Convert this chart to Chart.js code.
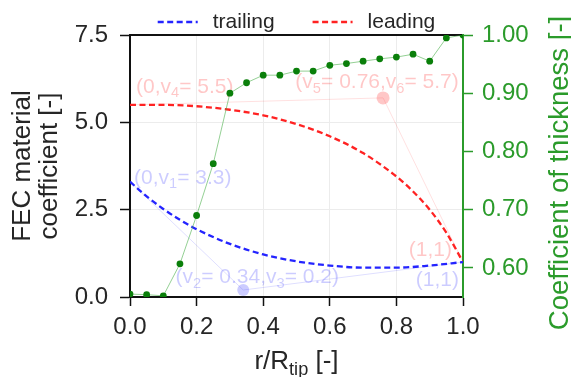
<!DOCTYPE html>
<html>
<head>
<meta charset="utf-8">
<script src="https://cdn.jsdelivr.net/npm/chart.js@4/dist/chart.umd.min.js"></script>
<style>
  html, body { margin: 0; padding: 0; background: #fff; }
  canvas { display: block; }
</style>
</head>
<body>
<canvas id="c" width="571" height="377"></canvas>
<script>
// Thickness coefficient along the blade span
const radialPos = [0, 0.05, 0.10, 0.15, 0.20, 0.25, 0.30, 0.35, 0.40, 0.45, 0.50,
                   0.55, 0.60, 0.65, 0.70, 0.75, 0.80, 0.85, 0.90, 0.95, 1.00];
const thickness = [0.555, 0.554, 0.552, 0.607, 0.690, 0.779, 0.900, 0.918, 0.931, 0.931, 0.938,
                   0.938, 0.948, 0.951, 0.955, 0.959, 0.962, 0.967, 0.955, 0.995, 1.000];

// FEC material coefficient, trailing edge
const trailingR   = [0, 0.05, 0.10, 0.15, 0.20, 0.30, 0.40, 0.50, 0.60, 0.70, 0.80, 0.90, 1.00];
const trailingVal = [3.30, 2.88, 2.52, 2.21, 1.94, 1.52, 1.22, 1.02, 0.90, 0.84, 0.84, 0.90, 1.00];

// FEC material coefficient, leading edge
const leadingR   = [0, 0.10, 0.20, 0.30, 0.40, 0.50, 0.60, 0.70, 0.80, 0.85, 0.90, 0.95, 1.00];
const leadingVal = [5.50, 5.50, 5.46, 5.36, 5.20, 4.95, 4.60, 4.12, 3.45, 3.02, 2.50, 1.84, 1.00];

// Curve control points (start, middle, end)
const trailingCtrlR = [0, 0.34, 1];
const trailingCtrlV = [3.3, 0.2, 1];
const leadingCtrlR  = [0, 0.76, 1];
const leadingCtrlV  = [5.5, 5.7, 1];

// Axis ticks
const xTicks  = [0, 0.2, 0.4, 0.6, 0.8, 1.0];
const yTicks  = [0, 2.5, 5.0, 7.5];
const y2Ticks = [0.6, 0.7, 0.8, 0.9, 1.0];

const FONT = "'Liberation Sans', Arial, sans-serif";
const TEXT = '#262626';
const GREEN = '#2b9b2b';
const BLUE = '#2424ff';
const RED = '#ff2222';
const TICK_SIZE = 24;
const TITLE_SIZE = 26;

const pts = (xs, ys) => xs.map((r, i) => ({ x: r, y: ys[i] }));

// Draws a string made of normal and subscript pieces
function drawRich(ctx, parts, x, y, align, size, color) {
  const sub = size * 0.7;
  const widths = parts.map(p => {
    ctx.font = (p.sub ? sub : size) + 'px ' + FONT;
    return ctx.measureText(p.t).width;
  });
  const total = widths.reduce((a, b) => a + b, 0);
  let cx = align === 'left' ? x : align === 'right' ? x - total : x - total / 2;
  ctx.fillStyle = color;
  ctx.textAlign = 'left';
  ctx.textBaseline = 'alphabetic';
  parts.forEach((p, i) => {
    ctx.font = (p.sub ? sub : size) + 'px ' + FONT;
    ctx.fillText(p.t, cx, y + (p.sub ? size * 0.22 : 0));
    cx += widths[i];
  });
}

const fmt = v => String(v);

const decorations = {
  id: 'decorations',
  beforeDatasetsDraw(chart) {
    const { ctx, scales: { x, y } } = chart;
    const pinkText = 'rgba(255,0,0,0.22)';
    const blueText = 'rgba(0,0,255,0.2)';
    const S = 21;
    const at = (r, v) => [x.getPixelForValue(r), y.getPixelForValue(v)];
    ctx.save();
    let p;
    p = at(leadingCtrlR[0], leadingCtrlV[0]);
    drawRich(ctx, [{ t: '(' + fmt(leadingCtrlR[0]) + ',v' }, { t: '4', sub: true }, { t: '= ' + leadingCtrlV[0].toFixed(1) + ')' }],
      p[0] + 6, p[1] - 12, 'left', S, pinkText);
    p = at(leadingCtrlR[1], leadingCtrlV[1]);
    drawRich(ctx, [{ t: '(v' }, { t: '5', sub: true }, { t: '= ' + leadingCtrlR[1].toFixed(2) + ',v' }, { t: '6', sub: true }, { t: '= ' + leadingCtrlV[1].toFixed(1) + ')' }],
      p[0] - 6, p[1] - 10, 'center', S, pinkText);
    p = at(leadingCtrlR[2], leadingCtrlV[2]);
    drawRich(ctx, [{ t: '(' + fmt(leadingCtrlR[2]) + ',' + fmt(leadingCtrlV[2]) + ')' }],
      p[0] - 11, p[1] - 6, 'right', S, pinkText);
    p = at(trailingCtrlR[0], trailingCtrlV[0]);
    drawRich(ctx, [{ t: '(' + fmt(trailingCtrlR[0]) + ',v' }, { t: '1', sub: true }, { t: '= ' + trailingCtrlV[0].toFixed(1) + ')' }],
      p[0] + 4, p[1] + 2, 'left', S, blueText);
    p = at(trailingCtrlR[1], trailingCtrlV[1]);
    drawRich(ctx, [{ t: '(v' }, { t: '2', sub: true }, { t: '= ' + trailingCtrlR[1].toFixed(2) + ',v' }, { t: '3', sub: true }, { t: '= ' + trailingCtrlV[1].toFixed(1) + ')' }],
      p[0] + 14, p[1] - 7, 'center', S, blueText);
    p = at(trailingCtrlR[2], trailingCtrlV[2]);
    drawRich(ctx, [{ t: '(' + fmt(trailingCtrlR[2]) + ',' + fmt(trailingCtrlV[2]) + ')' }],
      p[0] - 4, p[1] + 24, 'right', S, blueText);
    ctx.restore();
  },
  afterDraw(chart) {
    const { ctx, chartArea: a } = chart;
    ctx.save();
    // legend for the two edge curves
    const items = [chart.data.datasets[1], chart.data.datasets[2]];
    const LS = 21, lineLen = 40, gapText = 15, gapItem = 38;
    ctx.font = LS + 'px ' + FONT;
    const widths = items.map(d => lineLen + gapText + ctx.measureText(d.label).width);
    const total = widths.reduce((s, w) => s + w, 0) + gapItem * (items.length - 1);
    let lx = (a.left + a.right) / 2 - total / 2;
    const ly = 22;
    items.forEach((d, i) => {
      ctx.strokeStyle = d.borderColor;
      ctx.lineWidth = d.borderWidth;
      ctx.setLineDash(d.borderDash);
      ctx.beginPath();
      ctx.moveTo(lx, ly);
      ctx.lineTo(lx + lineLen, ly);
      ctx.stroke();
      ctx.setLineDash([]);
      ctx.fillStyle = TEXT;
      ctx.textAlign = 'left';
      ctx.textBaseline = 'middle';
      ctx.fillText(d.label, lx + lineLen + gapText, ly);
      lx += widths[i] + gapItem;
    });

    // x-axis title with subscript
    const cx = (a.left + a.right) / 2;
    drawRich(ctx, [{ t: 'r/R' }, { t: 'tip', sub: true }, { t: ' [-]' }], cx, 369, 'center', TITLE_SIZE, TEXT);

    // right axis title, reading upwards
    ctx.translate(560, (a.top + a.bottom) / 2 + 7);
    ctx.rotate(-Math.PI / 2);
    ctx.font = '27.5px ' + FONT;
    ctx.fillStyle = GREEN;
    ctx.textAlign = 'center';
    ctx.textBaseline = 'middle';
    ctx.fillText('Coefficient of thickness [-]', 0, 0);
    ctx.restore();
  }
};

new Chart(document.getElementById('c'), {
  type: 'line',
  data: {
    datasets: [
      {
        label: 'thickness',
        data: pts(radialPos, thickness),
        yAxisID: 'y2',
        borderColor: 'rgba(60,170,60,0.55)',
        borderWidth: 1,
        pointRadius: 3.4,
        pointBackgroundColor: '#0a7f0a',
        pointBorderWidth: 0,
        tension: 0
      },
      {
        label: 'trailing',
        data: pts(trailingR, trailingVal),
        yAxisID: 'y',
        borderColor: BLUE,
        borderWidth: 2.3,
        borderDash: [6, 3.5],
        pointRadius: 0,
        cubicInterpolationMode: 'monotone'
      },
      {
        label: 'leading',
        data: pts(leadingR, leadingVal),
        yAxisID: 'y',
        borderColor: RED,
        borderWidth: 2.3,
        borderDash: [6, 3.5],
        pointRadius: 0,
        cubicInterpolationMode: 'monotone'
      },
      {
        label: 'trailing control',
        data: pts(trailingCtrlR, trailingCtrlV),
        yAxisID: 'y',
        borderColor: 'rgba(0,0,255,0.13)',
        borderWidth: 1,
        pointRadius: [0, 6, 0],
        pointBackgroundColor: 'rgba(40,40,255,0.24)',
        pointBorderWidth: 0,
        tension: 0
      },
      {
        label: 'leading control',
        data: pts(leadingCtrlR, leadingCtrlV),
        yAxisID: 'y',
        borderColor: 'rgba(255,0,0,0.12)',
        borderWidth: 1,
        pointRadius: [0, 6.5, 0],
        pointBackgroundColor: 'rgba(255,40,40,0.26)',
        pointBorderWidth: 0,
        tension: 0
      }
    ]
  },
  options: {
    responsive: false,
    animation: false,
    devicePixelRatio: 1,
    layout: { padding: { top: 35, left: 0, right: 0, bottom: 0 } },
    plugins: { legend: { display: false }, tooltip: { enabled: false } },
    scales: {
      x: {
        type: 'linear', position: 'bottom', min: 0, max: 1,
        afterBuildTicks: s => { s.ticks = xTicks.map(v => ({ value: v })); },
        afterFit: s => { s.height = 80; },
        ticks: { callback: v => v.toFixed(1), font: { size: TICK_SIZE, family: FONT }, color: TEXT, padding: 7, maxRotation: 0, autoSkip: false },
        grid: { color: '#ececec', lineWidth: 1, tickColor: '#111', tickLength: 9, tickWidth: 1.5 },
        border: { color: '#111', width: 2 }
      },
      xTop: {
        type: 'linear', position: 'top', min: 0, max: 1,
        afterFit: s => { s.height = 0; },
        ticks: { display: false },
        grid: { drawOnChartArea: false, drawTicks: false },
        border: { color: '#111', width: 2 }
      },
      y: {
        type: 'linear', position: 'left', min: 0, max: 7.5,
        afterBuildTicks: s => { s.ticks = yTicks.map(v => ({ value: v })); },
        afterFit: s => { s.width = 130; },
        ticks: { callback: v => v.toFixed(1), font: { size: TICK_SIZE, family: FONT }, color: TEXT, padding: 12 },
        grid: { color: '#ececec', lineWidth: 1, tickColor: '#111', tickLength: 10, tickWidth: 1.5 },
        border: { color: '#111', width: 2 },
        title: {
          display: true, text: ['FEC material', 'coefficient [-]'], color: TEXT,
          font: { size: TITLE_SIZE, family: FONT, lineHeight: 1.05 }, padding: { top: 9, bottom: 0 }
        }
      },
      y2: {
        type: 'linear', position: 'right', min: 0.55, max: 1.0,
        afterBuildTicks: s => { s.ticks = y2Ticks.map(v => ({ value: v })); },
        afterFit: s => { s.width = 108; },
        ticks: { callback: v => v.toFixed(2), font: { size: TICK_SIZE, family: FONT }, color: GREEN, padding: 9 },
        grid: { drawOnChartArea: false, tickColor: GREEN, tickLength: 10, tickWidth: 1.5 },
        border: { color: GREEN, width: 2 }
      }
    }
  },
  plugins: [decorations]
});
</script>
</body>
</html>
